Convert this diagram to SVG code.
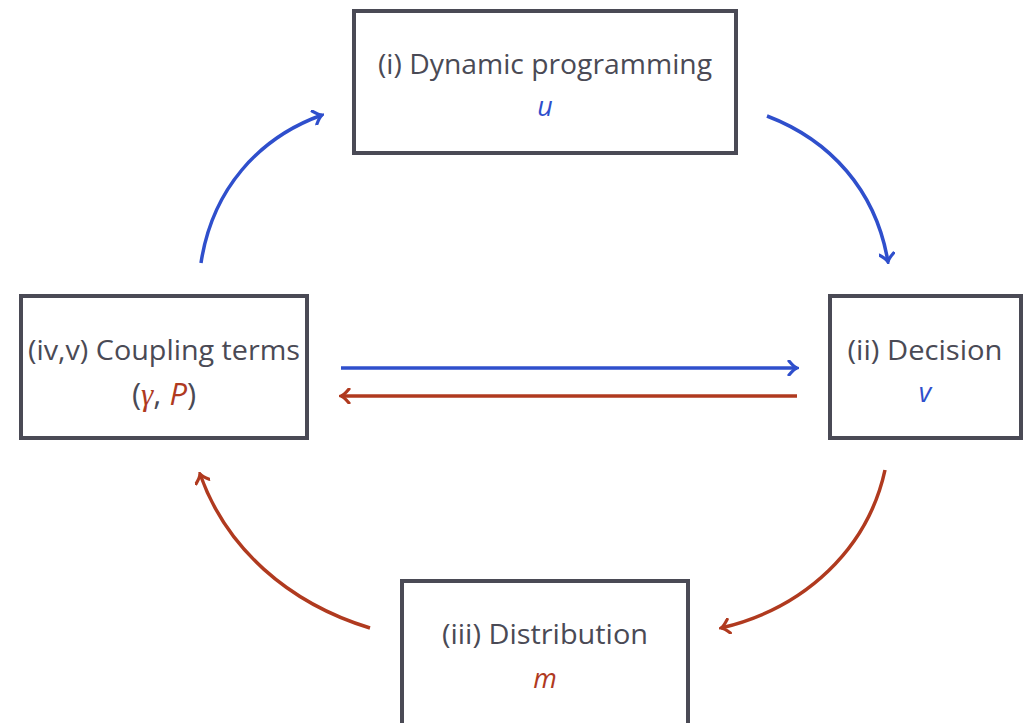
<svg xmlns="http://www.w3.org/2000/svg" width="1023" height="723" viewBox="0 0 1023 723">
<defs>
<style>
.box{fill:#fff;stroke:#4a4a55;stroke-width:4}
.t{font-family:"Open Sans","Lato",sans-serif;font-size:27px;fill:#4a4a55;text-anchor:middle}
.m{font-family:"Open Sans","Lato",sans-serif;font-style:italic;font-size:27px;text-anchor:middle}
.blue{fill:#2f4fcc}
.red{fill:#b03a1f}
.cb{fill:none;stroke:#2f4fcc;stroke-width:3.5}
.cr{fill:none;stroke:#b03a1f;stroke-width:3.5}
</style>
<marker id="ab" viewBox="-10 -8 12 16" markerWidth="12" markerHeight="16" refX="0" refY="0" orient="auto" markerUnits="userSpaceOnUse">
<path d="M-8,-7 Q-3,-1 0,0 Q-3,1 -8,7" fill="none" stroke="#2f4fcc" stroke-width="3.2" stroke-linecap="round"/>
</marker>
<marker id="ar" viewBox="-10 -8 12 16" markerWidth="12" markerHeight="16" refX="0" refY="0" orient="auto" markerUnits="userSpaceOnUse">
<path d="M-8,-7 Q-3,-1 0,0 Q-3,1 -8,7" fill="none" stroke="#b03a1f" stroke-width="3.2" stroke-linecap="round"/>
</marker>
</defs>
<rect width="1023" height="723" fill="#fff"/>
<g id="connectors">
<path class="cb" d="M201,263 C212,190 258,138 322,115" marker-end="url(#ab)"/>
<path class="cb" d="M767,116 C830,140 876,190 888,262" marker-end="url(#ab)"/>
<path class="cb" d="M341,368 L797,368" marker-end="url(#ab)"/>
<path class="cr" d="M797,396 L341,396" marker-end="url(#ar)"/>
<path class="cr" d="M885,470 C868,548 806,608 721,628" marker-end="url(#ar)"/>
<path class="cr" d="M370,628 C288,603 226,548 200,474" marker-end="url(#ar)"/>
</g>
<g id="node-dp">
<rect class="box" x="354" y="11" width="382" height="142"/>
<text class="t" x="545" y="74" textLength="334" lengthAdjust="spacingAndGlyphs">(i) Dynamic programming</text>
<text class="m blue" x="545" y="116">u</text>
</g>
<g id="node-decision">
<rect class="box" x="830" y="296" width="191" height="142"/>
<text class="t" x="925" y="360" textLength="155" lengthAdjust="spacingAndGlyphs">(ii) Decision</text>
<text class="m blue" x="925" y="402">v</text>
</g>
<g id="node-distribution">
<rect class="box" x="402" y="581" width="286" height="150"/>
<text class="t" x="545" y="644" textLength="206" lengthAdjust="spacingAndGlyphs">(iii) Distribution</text>
<text class="m red" x="545" y="688">m</text>
</g>
<g id="node-coupling">
<rect class="box" x="21" y="296" width="286" height="142"/>
<text class="t" x="164" y="405" style="font-size:31px">(<tspan class="red" style="font-family:'Liberation Serif',serif;font-style:italic">γ</tspan>, <tspan class="red" style="font-style:italic">P</tspan>)</text>
<text class="t" x="164" y="360" textLength="272" lengthAdjust="spacingAndGlyphs">(iv,v) Coupling terms</text>
</g>
</svg>
